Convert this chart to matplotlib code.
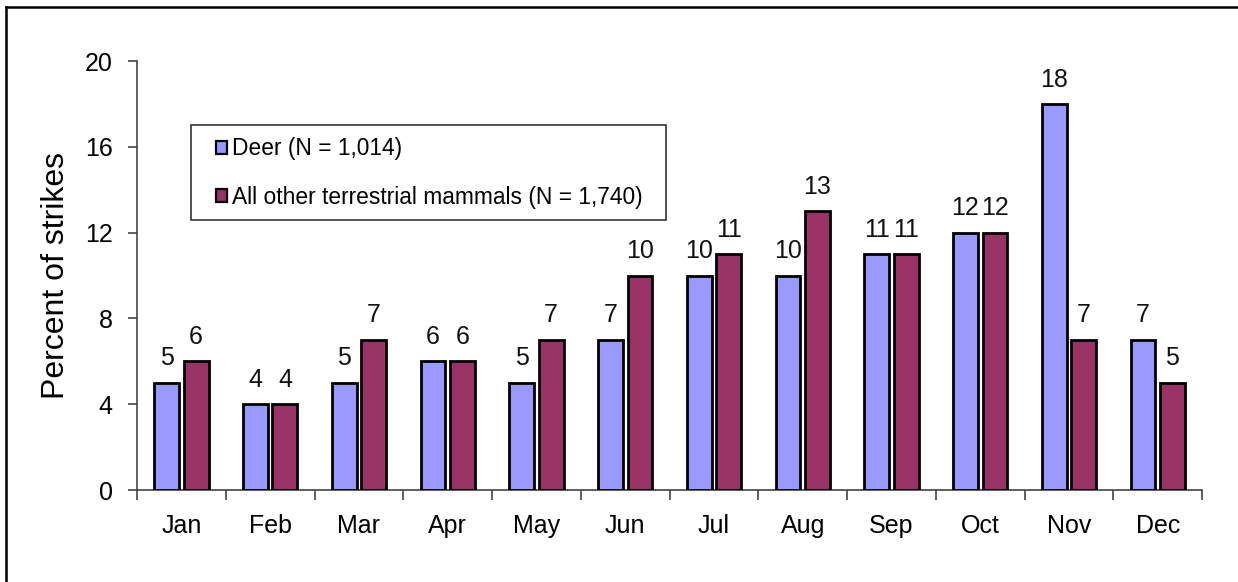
import matplotlib
matplotlib.use("Agg")
import matplotlib.pyplot as plt
from matplotlib.lines import Line2D
from matplotlib.patches import Rectangle
import numpy as np

plt.rcParams['font.family'] = ['Liberation Sans', 'DejaVu Sans']

months = ["Jan", "Feb", "Mar", "Apr", "May", "Jun", "Jul", "Aug", "Sep", "Oct", "Nov", "Dec"]
deer = [5, 4, 5, 6, 5, 7, 10, 10, 11, 12, 18, 7]
other = [6, 4, 7, 6, 7, 10, 11, 13, 11, 12, 7, 5]
deer_label = "Deer (N = 1,014)"
other_label = "All other terrestrial mammals (N = 1,740)"
yticks = [0, 4, 8, 12, 16, 20]

fig = plt.figure(figsize=(12.38, 5.82), dpi=100)
ax = fig.add_axes([0.1107, 0.158, 0.8603, 0.737])

x = np.arange(len(months)) + 0.5
w = 0.28
off = 0.166
ax.bar(x - off, deer, w, color="#9999FF", edgecolor="black", linewidth=2.0, label=deer_label, zorder=3)
ax.bar(x + off, other, w, color="#993366", edgecolor="black", linewidth=2.0, label=other_label, zorder=3)

for xs, vals in ((x - off, deer), (x + off, other)):
    for xi, v in zip(xs, vals):
        ax.annotate(str(v), (xi, v), xytext=(0, 9), textcoords="offset points",
                    ha="center", va="bottom", fontsize=18, color="#111111")

ax.set_xlim(0, 12)
ax.set_ylim(0, 20)
ax.set_yticks(yticks)
ax.set_yticklabels([str(t) for t in yticks], fontsize=18)
ax.set_xticks(np.arange(0, 13))
ax.set_xticklabels([])
ax.set_xticks(x, minor=True)
ax.set_xticklabels(months, minor=True, fontsize=18)
ax.tick_params(axis="x", which="minor", length=0, pad=17)
ax.tick_params(axis="x", which="major", length=7, width=1.2, color="#444444")
ax.tick_params(axis="y", length=6.5, width=1.2, color="#444444", pad=11)

for s in ("top", "right"):
    ax.spines[s].set_visible(False)
for s in ("left", "bottom"):
    ax.spines[s].set_color("#444444")
    ax.spines[s].set_linewidth(1.2)

ax.set_ylabel("Percent of strikes", fontsize=23, labelpad=10)

# legend frame drawn separately for exact box size
ax.add_patch(Rectangle((0.0507, 0.629), 0.446, 0.222, transform=ax.transAxes,
                       facecolor="white", edgecolor="#333333", linewidth=1.2, zorder=4))
leg = ax.legend(loc="center left", bbox_to_anchor=(0.0742, 0.739), fontsize=16.4,
                frameon=False, handlelength=0.5, handleheight=0.5, handletextpad=0.2,
                labelspacing=1.12, borderpad=0, borderaxespad=0)
leg.set_zorder(5)
for h in leg.legend_handles:
    h.set_linewidth(1.6)

fig.add_artist(Line2D([0.0045, 0.0045], [0.0, 0.988], transform=fig.transFigure, color="black", linewidth=1.8))
fig.add_artist(Line2D([0.0045, 1.0], [0.988, 0.988], transform=fig.transFigure, color="black", linewidth=1.8))

fig.savefig("out.png", dpi=100)
